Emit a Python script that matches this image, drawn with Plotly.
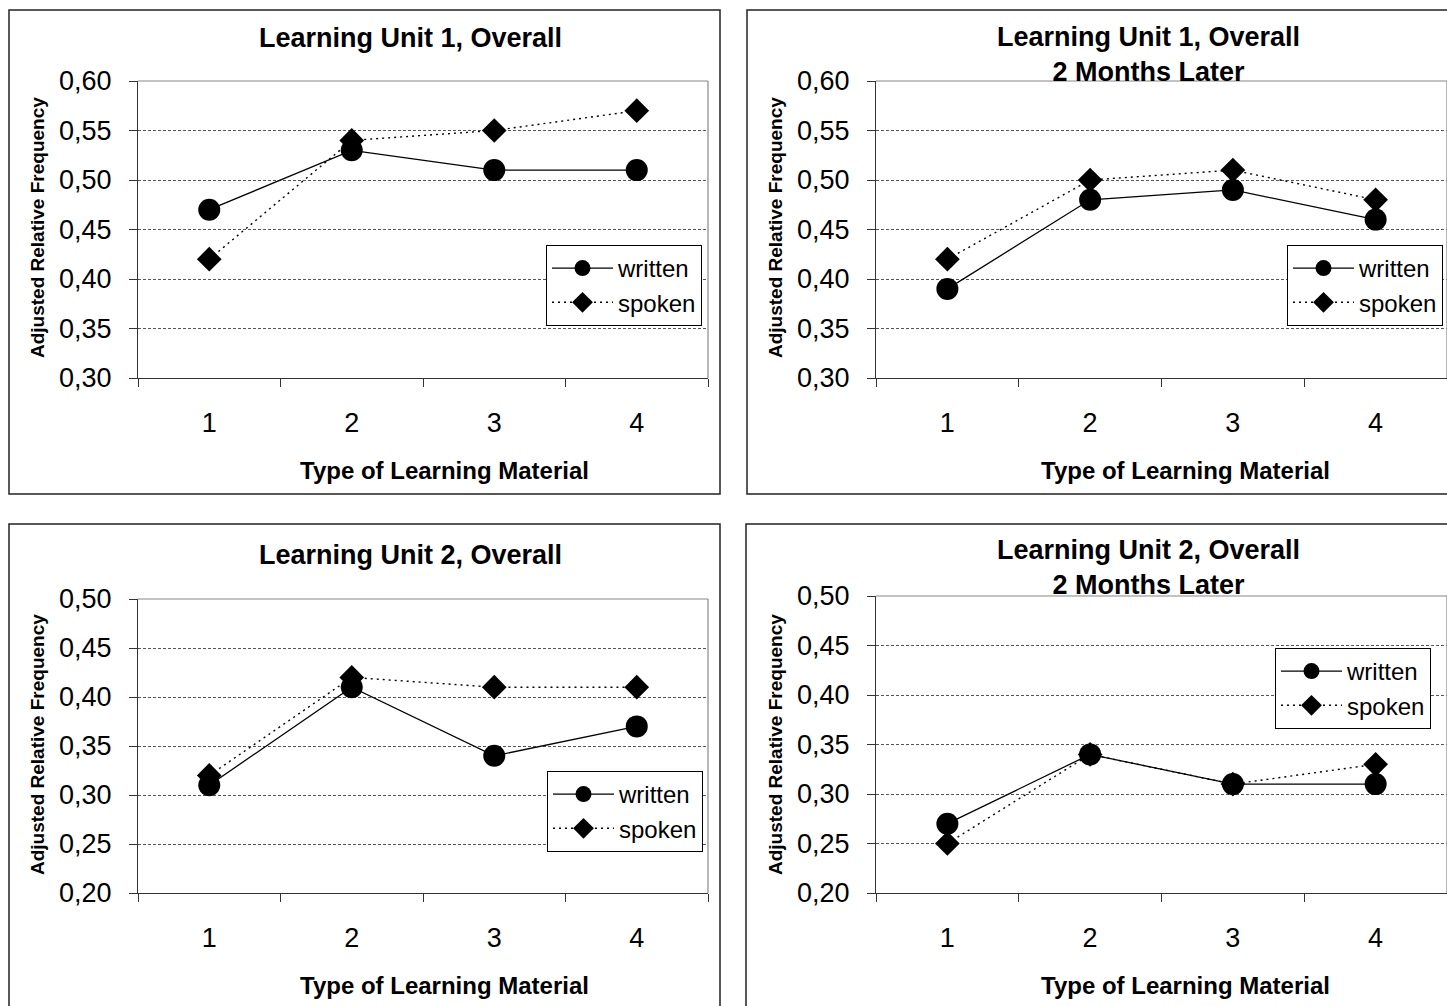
import plotly.graph_objects as go

W, H = 1447, 1006

categories = ["1", "2", "3", "4"]

titles = [
    "Learning Unit 1, Overall",
    "Learning Unit 1, Overall<br>2 Months Later",
    "Learning Unit 2, Overall",
    "Learning Unit 2, Overall<br>2 Months Later",
]

unit1_written = [0.47, 0.53, 0.51, 0.51]
unit1_spoken = [0.42, 0.54, 0.55, 0.57]
unit1_later_written = [0.39, 0.48, 0.49, 0.46]
unit1_later_spoken = [0.42, 0.50, 0.51, 0.48]
unit2_written = [0.31, 0.41, 0.34, 0.37]
unit2_spoken = [0.32, 0.42, 0.41, 0.41]
unit2_later_written = [0.27, 0.34, 0.31, 0.31]
unit2_later_spoken = [0.25, 0.34, 0.31, 0.33]

y_ranges = [(0.30, 0.60), (0.30, 0.60), (0.20, 0.50), (0.20, 0.50)]
tick_step = 0.05

x_title = "Type of Learning Material"
y_title = "Adjusted Relative Frequency"
series_names = ["written", "spoken"]

FONT = "Liberation Sans, Arial, sans-serif"


def px(x):
    return x / W


def py(y):
    return 1 - y / H


# layout geometry in pixels (plot areas)
panels = [
    dict(x=(138, 708), y=(81, 378), box=(9, 10, 720, 494), title=(410, 38),
         xt=(444, 470), yt=(37, 228), leg=(546, 245)),
    dict(x=(876, 1447), y=(81, 378), box=(747, 10, 1460, 494), title=(1148, 55),
         xt=(1185, 470), yt=(775, 228), leg=(1287, 245)),
    dict(x=(138, 708), y=(599, 893), box=(9, 524, 720, 1020), title=(410, 555),
         xt=(444, 985), yt=(37, 745), leg=(547, 771)),
    dict(x=(876, 1447), y=(596, 893), box=(746, 524, 1460, 1020), title=(1148, 567),
         xt=(1185, 985), yt=(775, 745), leg=(1275, 648)),
]

data_sets = [
    (unit1_written, unit1_spoken),
    (unit1_later_written, unit1_later_spoken),
    (unit2_written, unit2_spoken),
    (unit2_later_written, unit2_later_spoken),
]

fig = go.Figure()
shapes = []
annotations = []
layout_extra = {}

for i, (p, (wr, sp), rng, ttl) in enumerate(zip(panels, data_sets, y_ranges, titles)):
    n = "" if i == 0 else str(i + 1)
    xa, ya = "x" + n, "y" + n
    leg = "legend" + n
    fig.add_trace(go.Scatter(
        x=categories, y=wr, name=series_names[0], xaxis=xa, yaxis=ya, legend=leg,
        mode="lines+markers",
        line=dict(color="black", width=1.3),
        marker=dict(symbol="circle", size=22, color="black"),
    ))
    fig.add_trace(go.Scatter(
        x=categories, y=sp, name=series_names[1], xaxis=xa, yaxis=ya, legend=leg,
        mode="lines+markers",
        line=dict(color="black", width=1.4, dash="2px,4px"),
        marker=dict(symbol="diamond", size=19, color="black"),
    ))
    ticks = []
    v = rng[0]
    while v <= rng[1] + 1e-9:
        ticks.append(round(v, 2))
        v += tick_step
    layout_extra["xaxis" + n] = dict(
        type="category", categoryorder="array", categoryarray=categories,
        range=[-0.5, len(categories) - 0.5], autorange=False,
        domain=[px(p["x"][0]), px(p["x"][1])], anchor=ya,
        tickson="boundaries", ticks="outside", ticklen=8, tickcolor="#333",
        showline=True, linecolor="#333", linewidth=1.3,
        showgrid=False, zeroline=False, automargin=False,
        tickfont=dict(family=FONT, size=27, color="black"),
        ticklabelstandoff=20, fixedrange=True,
    )
    layout_extra["yaxis" + n] = dict(
        range=list(rng), autorange=False,
        domain=[py(p["y"][1]), py(p["y"][0])], anchor=xa,
        tickvals=ticks, tickformat=".2f",
        ticks="outside", ticklen=8, tickcolor="#333",
        showline=True, linecolor="#333", linewidth=1.3,
        showgrid=True, gridcolor="#555", gridwidth=1, griddash="3px,2px",
        zeroline=False, automargin=False,
        tickfont=dict(family=FONT, size=27, color="black"),
        ticklabelstandoff=12, fixedrange=True,
    )
    layout_extra[leg] = dict(
        x=px(p["leg"][0]), y=py(p["leg"][1]), xanchor="left", yanchor="top",
        bordercolor="black", borderwidth=1, bgcolor="white",
        font=dict(family=FONT, size=24, color="black"),
        itemwidth=61, tracegroupgap=0,
    )
    # plot-area border (top and right, gray)
    shapes.append(dict(type="line", xref=xa + " domain", yref=ya + " domain",
                       x0=0, x1=1, y0=1, y1=1, line=dict(color="#888", width=1.2)))
    shapes.append(dict(type="line", xref=xa + " domain", yref=ya + " domain",
                       x0=1, x1=1, y0=0, y1=1, line=dict(color="#888", width=1.2)))
    # panel box
    bx0, by0, bx1, by1 = p["box"]
    shapes.append(dict(type="rect", xref="paper", yref="paper",
                       x0=px(bx0), x1=px(bx1), y0=py(by1), y1=py(by0),
                       line=dict(color="#222", width=1.5), layer="below"))
    annotations.append(dict(text="<b>%s</b>" % ttl.replace("<br>", "</b><br><b>"),
                            xref="paper", yref="paper",
                            x=px(p["title"][0]), y=py(p["title"][1]),
                            xanchor="center", yanchor="middle", showarrow=False,
                            font=dict(family=FONT, size=27, color="black")))
    annotations.append(dict(text="<b>%s</b>" % x_title, xref="paper", yref="paper",
                            x=px(p["xt"][0]), y=py(p["xt"][1]),
                            xanchor="center", yanchor="middle", showarrow=False,
                            font=dict(family=FONT, size=24, color="black")))
    annotations.append(dict(text="<b>%s</b>" % y_title, xref="paper", yref="paper",
                            x=px(p["yt"][0]), y=py(p["yt"][1]), textangle=-90,
                            xanchor="center", yanchor="middle", showarrow=False,
                            font=dict(family=FONT, size=19, color="black")))

fig.update_layout(
    width=W, height=H,
    margin=dict(l=0, r=0, t=0, b=0, autoexpand=False),
    paper_bgcolor="white", plot_bgcolor="rgba(0,0,0,0)",
    separators=",.",
    shapes=shapes, annotations=annotations,
    font=dict(family=FONT, color="black"),
    **layout_extra,
)

fig.write_html(
    "out.html",
    config={"displayModeBar": False},
    post_script="document.body.style.margin='0';document.body.style.overflow='hidden';",
)
